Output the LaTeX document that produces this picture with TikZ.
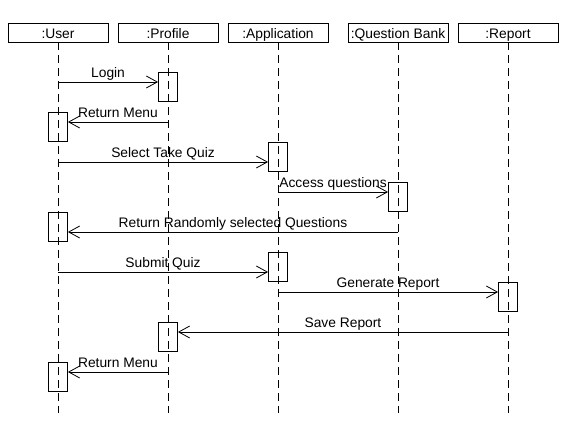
\documentclass[tikz,border=0pt]{standalone}
\usepackage{fontspec}
\setmainfont{Liberation Sans}
\usepackage{tikz}
\usetikzlibrary{positioning,calc,arrows.meta}

\begin{document}
\begin{tikzpicture}[
        x=1pt, y=-1pt,
        object/.style={rectangle, draw=black, line width=0.8pt, minimum width=100pt, minimum height=19pt, inner sep=0pt, text height=12.5pt, text depth=0pt, font=\fontsize{13.8}{16}\selectfont},
        lifeline/.style={draw=black, line width=0.8pt, dash pattern=on 8pt off 5pt},
        activation/.style={rectangle, draw=black, line width=0.8pt, minimum width=19pt, minimum height=29pt, inner sep=0pt},
        msg/.style={-{Straight Barb[length=11pt,width=12pt]}, line width=0.8pt},
        msglabel/.style={font=\fontsize{13.8}{16}\selectfont, inner sep=1pt, text depth=3pt},
      ]
      \useasboundingbox (0,0) rectangle (574,433);
      % Objects
      \node [object] (user) at (58,32.5) {:User};
      \node [object] (profile) at (168,32.5) {:Profile};
      \node [object] (app) at (278,32.5) {:Application};
      \node [object] (qbank) at (398,32.5) {:Question Bank};
      \node [object] (report) at (508,32.5) {:Report};
      % Lifelines
      \coordinate (lifeend) at (0,413);
      \draw [lifeline] (user.south) -- (user.south |- lifeend);
      \draw [lifeline] (profile.south) -- (profile.south |- lifeend);
      \draw [lifeline] (app.south) -- (app.south |- lifeend);
      \draw [lifeline] (qbank.south) -- (qbank.south |- lifeend);
      \draw [lifeline] (report.south) -- (report.south |- lifeend);
      % Activations
      \node [activation] (actlogin) at (168,86.5) {};
      \node [activation] (actmenu) at (58,127) {};
      \node [activation] (actquiz) at (278,156.5) {};
      \node [activation] (actaccess) at (398,197) {};
      \node [activation] (actrandom) at (58,226.5) {};
      \node [activation] (actsubmit) at (278,266.5) {};
      \node [activation] (actgenerate) at (508,297) {};
      \node [activation] (actsave) at (168,336.5) {};
      \node [activation] (actmenutwo) at (58,376.5) {};
      % Messages
      \coordinate (login) at (58,82);
      \coordinate (menu) at (168,122);
      \coordinate (quiz) at (58,162);
      \coordinate (access) at (278,192);
      \coordinate (random) at (398,232);
      \coordinate (submit) at (58,272);
      \coordinate (generate) at (278,292);
      \coordinate (save) at (508,332);
      \coordinate (menutwo) at (168,372);
      \draw [msg] (login) -- node [msglabel, above] {Login} (login -| actlogin.west);
      \draw [msg] (menu) -- node [msglabel, above] {Return Menu} (menu -| actmenu.east);
      \draw [msg] (quiz) -- node [msglabel, above] {Select Take Quiz} (quiz -| actquiz.west);
      \draw [msg] (access) -- node [msglabel, above] {Access questions} (access -| actaccess.west);
      \draw [msg] (random) -- node [msglabel, above] {Return Randomly selected Questions} (random -| actrandom.east);
      \draw [msg] (submit) -- node [msglabel, above] {Submit Quiz} (submit -| actsubmit.west);
      \draw [msg] (generate) -- node [msglabel, above] {Generate Report} (generate -| actgenerate.west);
      \draw [msg] (save) -- node [msglabel, above] {Save Report} (save -| actsave.east);
      \draw [msg] (menutwo) -- node [msglabel, above] {Return Menu} (menutwo -| actmenutwo.east);
    \end{tikzpicture}
\end{document}
